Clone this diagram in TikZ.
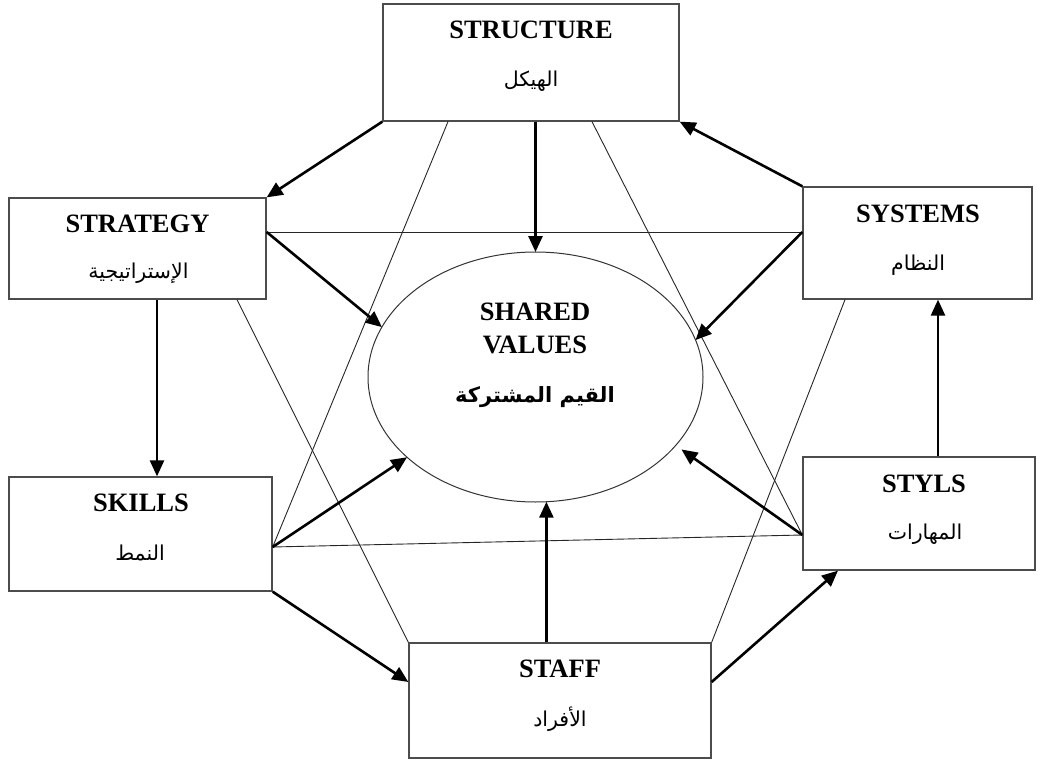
\documentclass[tikz,border=0pt]{standalone}
\usepackage{fontspec}
\setmainfont{Liberation Serif}
\newfontfamily\arabicfont[Script=Arabic]{DejaVu Sans}
\TeXXeTstate=1
\usetikzlibrary{shapes.geometric,arrows.meta}

\begin{document}
\begin{tikzpicture}[x=1pt,y=-1pt,
  box/.style={draw=black!70, line width=1.3pt, rectangle, inner sep=0pt},
  oval/.style={draw=black!80, line width=1pt, ellipse, inner sep=0pt, outer sep=0pt},
  title/.style={font=\fontsize{26.5}{30}\selectfont\bfseries, inner sep=0pt},
  arab/.style={font=\arabicfont\fontsize{20.5}{24}\selectfont, inner sep=0pt},
  arabbold/.style={font=\arabicfont\fontsize{21}{26}\selectfont\bfseries, inner sep=0pt},
  link/.style={draw=black!85, line width=0.9pt},
  flow/.style={draw=black, line width=2.6pt, -{Triangle[length=16pt,width=14pt]}}
]
\useasboundingbox (0,0) rectangle (1037,760);

% the seven elements
\node[box, minimum width=296pt, minimum height=117pt] (structure) at (531,62.5) {};
\node[box, minimum width=257pt, minimum height=101pt] (strategy) at (137.5,248.5) {};
\node[box, minimum width=229pt, minimum height=112pt] (systems) at (917.5,243) {};
\node[box, minimum width=263pt, minimum height=114pt] (skills) at (140.5,534) {};
\node[box, minimum width=232pt, minimum height=113pt] (styls) at (919,513.5) {};
\node[box, minimum width=302pt, minimum height=115pt] (staff) at (560,700.5) {};
\node[oval, minimum width=335pt, minimum height=250pt] (sv) at (535.5,377) {};

% labels
\node[title] (structureT) at (531,30) {STRUCTURE};
\node[arab] (structureA) at (531,81) {\beginR الهيكل\endR};
\node[title] (strategyT) at (137.5,223.5) {STRATEGY};
\node[arab] (strategyA) at (138.5,273) {\beginR الإستراتيجية\endR};
\node[title] (systemsT) at (918,214) {SYSTEMS};
\node[arab] (systemsA) at (918,265) {\beginR النظام\endR};
\node[title] (skillsT) at (141,503) {SKILLS};
\node[arab] (skillsA) at (140,553) {\beginR النمط\endR};
\node[title] (stylsT) at (924,484) {STYLS};
\node[arab] (stylsA) at (925,534) {\beginR المهارات\endR};
\node[title] (staffT) at (560,669) {STAFF};
\node[arab] (staffA) at (560,719) {\beginR الأفراد\endR};
\node[title] (svT1) at (535,312) {SHARED};
\node[title] (svT2) at (535,345) {VALUES};
\node[arabbold] (svA) at (535,397) {\beginR القيم المشتركة\endR};

% thin links forming the star
\draw[link] ([xshift=-83pt]structure.south) -- ([yshift=-13pt]skills.east)
            -- ([yshift=-21.5pt]styls.west) -- ([xshift=61pt]structure.south);
\draw[link] ([yshift=16.5pt]strategy.east) -- ([yshift=11pt]systems.west);
\draw[link] ([xshift=99.5pt]strategy.south) -- (staff.north west);
\draw[link] ([xshift=-72.5pt]systems.south) -- (staff.north east);

% arrows around the ring
\draw[flow] (structure.south west) -- (strategy.north east);
\draw[flow] (systems.north west) -- (structure.south east);
\draw[flow] ([xshift=19.5pt]strategy.south) -- ([xshift=19.5pt]strategy.south |- skills.north);
\draw[flow] (skills.south east) -- ([yshift=18.5pt]staff.west);
\draw[flow] ([yshift=18.5pt]staff.east) -- ([xshift=-81pt]styls.south);
\draw[flow] ([xshift=19pt]styls.north) -- ([xshift=19pt]styls.north |- systems.south);

% arrows into the shared values
\draw[flow] (sv.north |- structure.south) -- (sv.north);
\draw[flow] ([yshift=16.5pt]strategy.east) -- (sv.162.3);
\draw[flow] ([yshift=11pt]systems.west) -- (sv.13.1);
\draw[flow] ([yshift=-13pt]skills.east) -- (sv.212.1);
\draw[flow, shorten >=7pt] ([yshift=-21.5pt]styls.west) -- (sv.334.2);
\draw[flow] (sv.275.7 |- staff.north) -- (sv.275.7);
\end{tikzpicture}
\end{document}
